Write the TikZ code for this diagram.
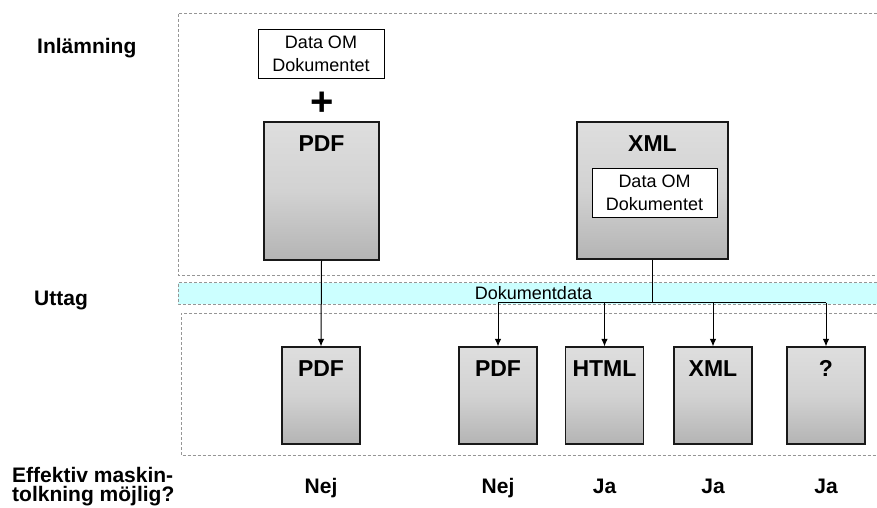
\documentclass[tikz,border=0pt]{standalone}
\usepackage{fontspec}
\setmainfont{Liberation Sans}
\usetikzlibrary{arrows.meta}
\definecolor{dashgray}{RGB}{150,150,150}
\definecolor{bandcyan}{RGB}{204,255,255}
\definecolor{boxtop}{RGB}{222,222,222}
\definecolor{boxmid}{RGB}{210,210,210}
\definecolor{boxbot}{RGB}{180,180,180}
\begin{document}
\begin{tikzpicture}[x=1pt,y=-1pt,
  region/.style={draw=dashgray, line width=0.8pt, dash pattern=on 3pt off 2pt},
  docbox/.style={draw=black!90, line width=1.2pt, top color=boxtop, bottom color=boxbot, middle color=boxmid, inner sep=0pt, minimum width=78pt, minimum height=97pt},
  databox/.style={draw=black, line width=0.8pt, fill=white, align=center, inner sep=0pt, minimum width=126pt, minimum height=49pt, font=\fontsize{18}{23}\selectfont},
  boxlabel/.style={anchor=base, inner sep=0pt, font=\fontsize{23}{27}\selectfont\bfseries},
  sidelabel/.style={anchor=base west, inner sep=0pt, font=\fontsize{21}{19}\selectfont\bfseries, align=left},
  answer/.style={anchor=base, inner sep=0pt, font=\fontsize{21}{25}\selectfont\bfseries},
  conn/.style={draw=black, line width=1pt},
  arr/.style={conn, -{Latex[length=7.5pt,width=6.5pt]}},
]
\useasboundingbox (0,0) rectangle (877,508);
\clip (0,0) rectangle (877,508);

% regions
\path[region] (877,13) -- (178,13) -- (178,275) -- (877,275);
\fill[bandcyan] (178,282.5) rectangle (877,304);
\path[region] (877,282.5) -- (178,282.5) -- (178,304) -- (877,304);
\path[region] (877,313) -- (181,313) -- (181,455.5) -- (877,455.5);

% side labels
\node[sidelabel] (lblIn) at (37,54) {Inlämning};
\node[sidelabel] (lblUt) at (34,305) {Uttag};
\node[sidelabel] (lblEf) at (12,501) {Effektiv maskin-\\tolkning möjlig?};

% submission
\node[databox] (dataA) at (321,53.5) {Data OM\\Dokumentet};
\node[inner sep=0pt, font=\fontsize{40}{44}\selectfont\bfseries] (plus) at (322.5,103.5) {+};
\node[docbox, minimum width=115pt, minimum height=138pt] (pdfA) at (321.5,191) {};
\node[boxlabel] (pdfAl) at (321.5,151) {PDF};
\node[docbox, minimum width=151pt, minimum height=137pt] (xmlA) at (652.5,190.5) {};
\node[boxlabel] (xmlAl) at (652.5,151) {XML};
\node[databox, minimum width=125pt] (dataB) at (654.5,192.5) {Data OM\\Dokumentet};

% band text
\node[anchor=base, inner sep=0pt, font=\fontsize{18}{22}\selectfont] (band) at (533.5,299) {Dokumentdata};

% output boxes
\node[docbox] (pdfB) at (321,395.5) {};
\node[boxlabel] (pdfBl) at (321,376) {PDF};
\node[docbox] (pdfC) at (498,395.5) {};
\node[boxlabel] (pdfCl) at (498,376) {PDF};
\node[docbox] (html) at (604.5,395.5) {};
\node[boxlabel] (htmll) at (604.5,376) {HTML};
\node[docbox] (xmlB) at (713,395.5) {};
\node[boxlabel] (xmlBl) at (713,376) {XML};
\node[docbox] (qbox) at (826,395.5) {};
\node[boxlabel] (qboxl) at (826,376) {?};

% answers
\node[answer] (a1) at (321,493) {Nej};
\node[answer] (a2) at (498,493) {Nej};
\node[answer] (a3) at (604.5,493) {Ja};
\node[answer] (a4) at (713,493) {Ja};
\node[answer] (a5) at (826,493) {Ja};

% connectors
\coordinate (bus) at (652.5,302.5);
\draw[arr] (pdfA.south) -- (pdfB.north);
\draw[conn, line width=1.4pt] (xmlA.south) -- (bus);
\draw[conn, line width=1.4pt] (pdfC.north |- bus) -- (qbox.north |- bus);
\draw[arr] (pdfC.north |- bus) -- (pdfC.north);
\draw[arr] (html.north |- bus) -- (html.north);
\draw[arr] (xmlB.north |- bus) -- (xmlB.north);
\draw[arr] (qbox.north |- bus) -- (qbox.north);
\end{tikzpicture}
\end{document}
